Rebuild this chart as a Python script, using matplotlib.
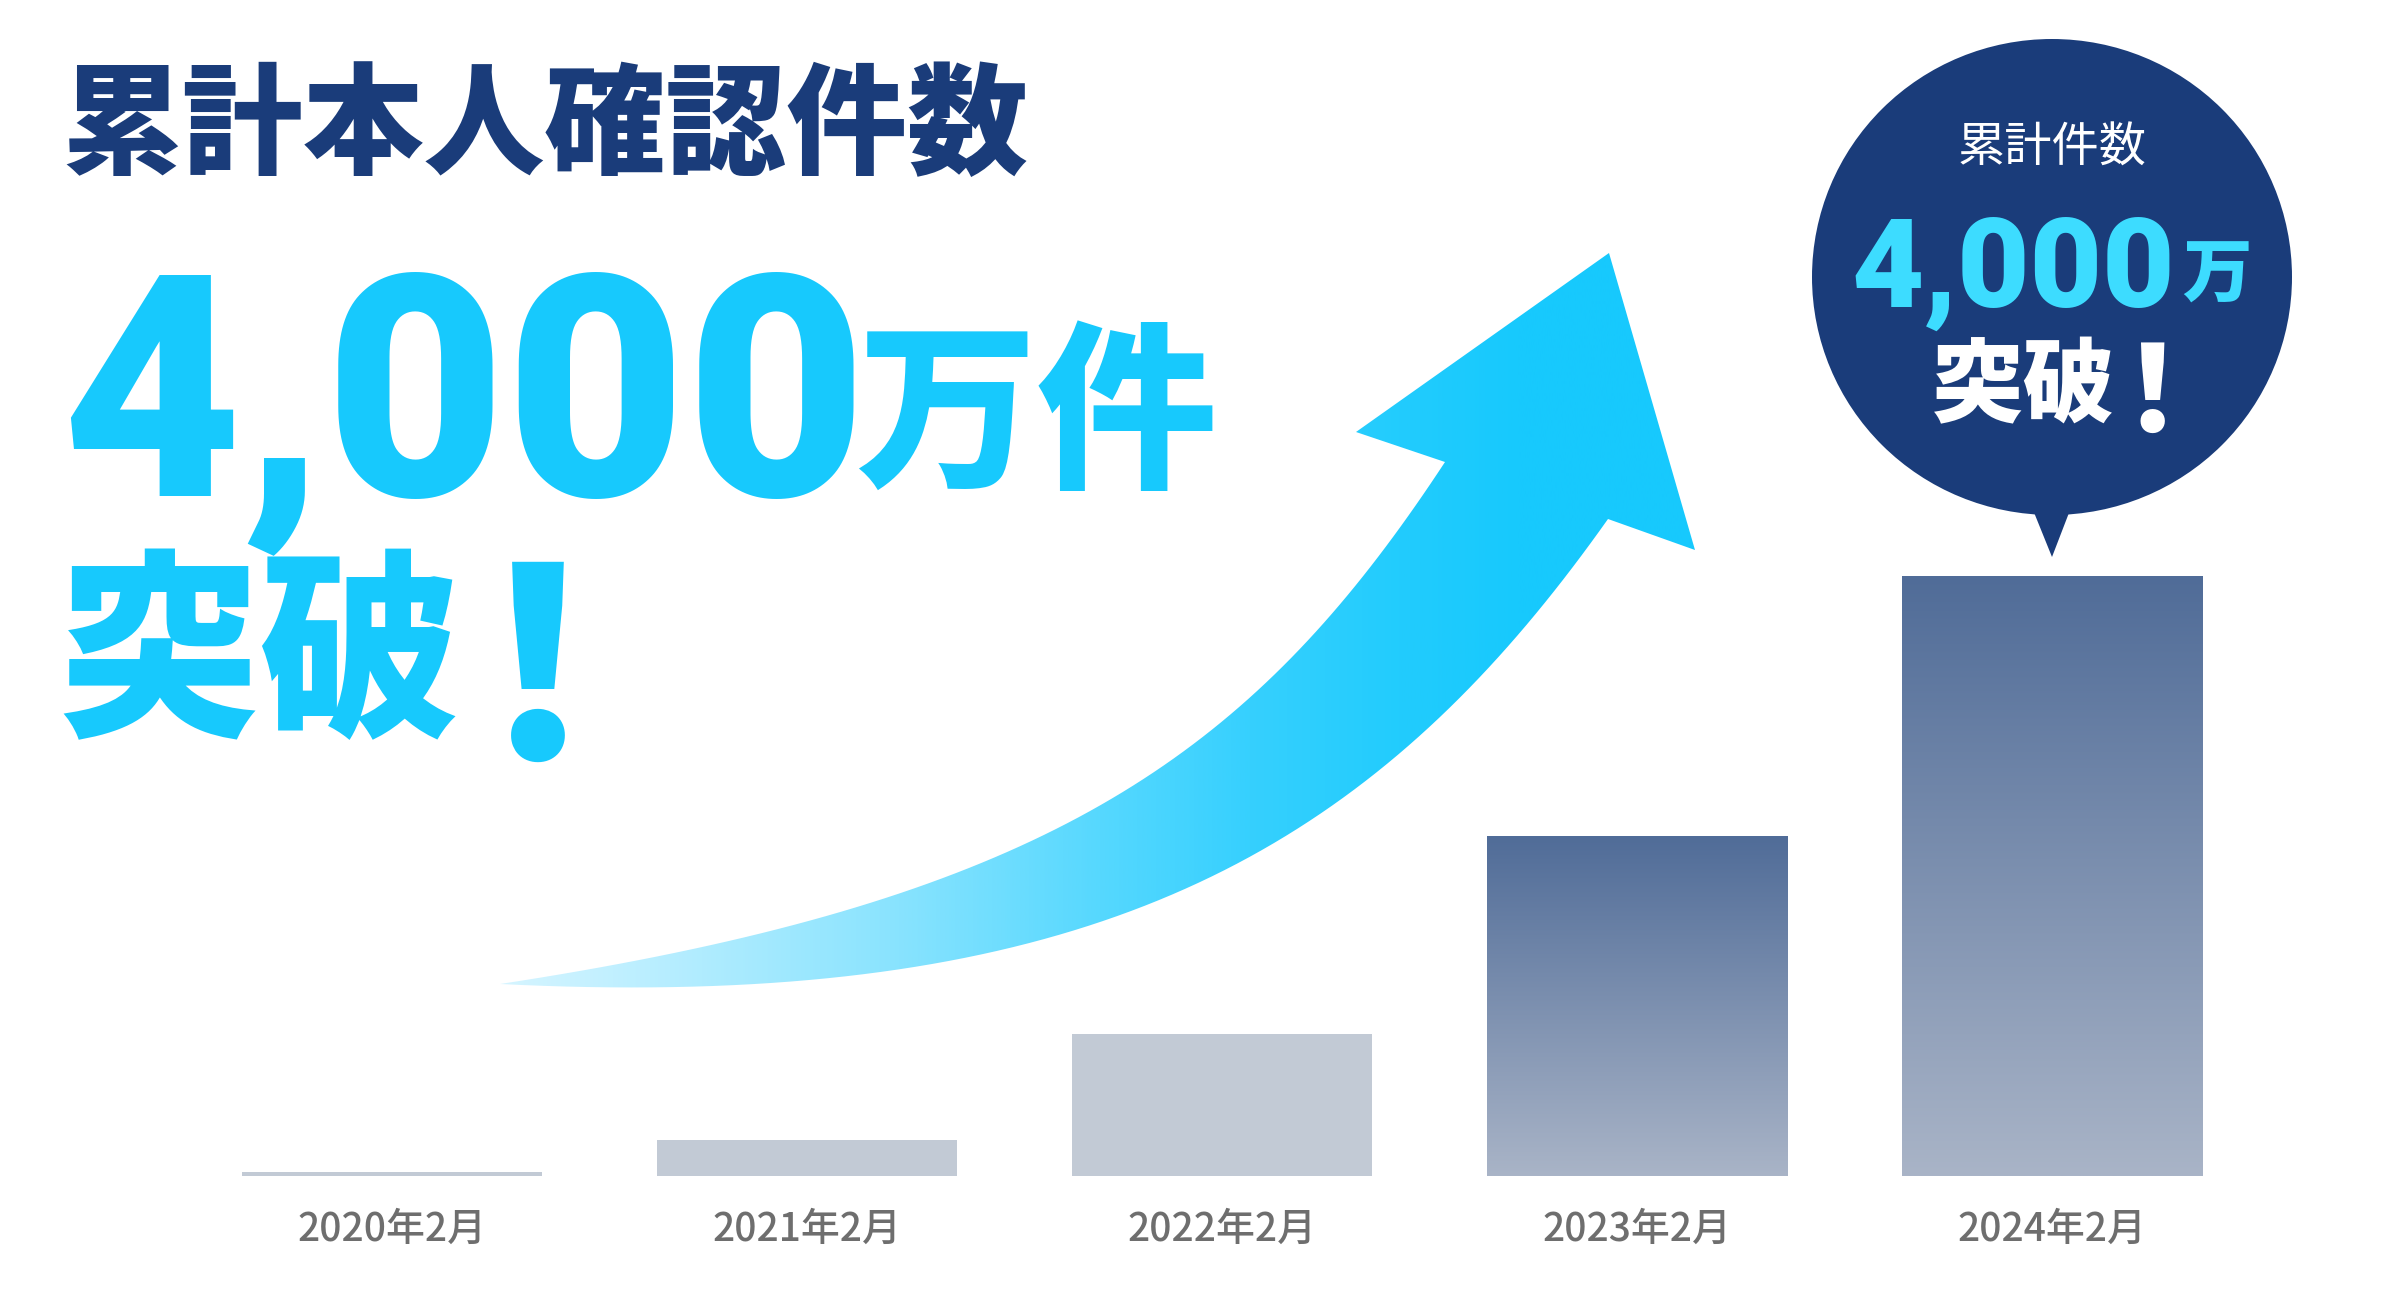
import numpy as np
import matplotlib.pyplot as plt
from matplotlib.patches import Ellipse, Polygon
from matplotlib.colors import LinearSegmentedColormap

plt.rcParams['font.family'] = ['Noto Sans CJK JP', 'DejaVu Sans']
digits_font = ['Roboto', 'Noto Sans CJK JP']

# data (万件)
months = ['2020年2月', '2021年2月', '2022年2月', '2023年2月', '2024年2月']
counts = [25, 240, 950, 2270, 4000]
gradient_bar = [False, False, False, True, True]

navy = '#1a3c7a'
cyan = '#17c9fd'

fig = plt.figure(figsize=(24, 13), dpi=100)

# bar chart
ax = fig.add_axes([0.0769, 1 - 1176 / 1300, 0.8646, (1176 - 576) / 1300])
x = np.arange(len(months))
bars = ax.bar(x, counts, width=0.723, color='#c2cad5', linewidth=0)
bar_cm = LinearSegmentedColormap.from_list('bar', ['#a9b4c7', '#506c98'])
for b, grad in zip(bars, gradient_bar):
    if not grad:
        continue
    b.set_facecolor('none')
    x0, y0 = b.get_x(), b.get_y()
    g = np.linspace(0, 1, 256).reshape(-1, 1)
    im = ax.imshow(g, cmap=bar_cm, origin='lower', aspect='auto',
                   extent=(x0, x0 + b.get_width(), y0, y0 + b.get_height()))
    im.set_clip_path(b)
ax.set_xlim(-0.5, len(months) - 0.5)
ax.set_ylim(0, 4000)
ax.set_xticks(x, months, fontsize=28, color='#6e6e6e', fontweight='medium')
ax.tick_params(axis='x', length=0, pad=24)
ax.set_yticks([])
for s in ax.spines.values():
    s.set_visible(False)
ax.patch.set_visible(False)

# overlay in pixel coordinates
ov = fig.add_axes([0, 0, 1, 1], zorder=3)
ov.set_xlim(0, 2400)
ov.set_ylim(1300, 0)
ov.axis('off')
ov.patch.set_visible(False)

# curved arrow
def bez(p0, p1, p2, p3, n=80):
    t = np.linspace(0, 1, n)[:, None]
    return ((1 - t) ** 3 * p0 + 3 * (1 - t) ** 2 * t * p1
            + 3 * (1 - t) * t ** 2 * p2 + t ** 3 * p3)

tail = np.array([500, 984])
upper = bez(tail, np.array([1050, 900]), np.array([1252, 756]), np.array([1445, 462]))
lower = bez(tail, np.array([1100, 1014]), np.array([1376, 847]), np.array([1608, 519]))
head = np.array([[1356, 432], [1609, 253], [1695, 550]])
arrow = Polygon(np.vstack([upper, head, lower[::-1]]), closed=True,
                facecolor='none', edgecolor='none')
ov.add_patch(arrow)
stops = [(0.0, '#d6f5ff'), (0.167, '#b0ecff'), (0.333, '#88e3fe'),
         (0.5, '#56d8fe'), (0.625, '#36d0fe'), (0.75, '#22ccfd'), (0.85, cyan), (1.0, cyan)]
acm = LinearSegmentedColormap.from_list('arr', stops)
aim = ov.imshow(np.linspace(0, 1, 512).reshape(1, -1), cmap=acm, aspect='auto',
                extent=(500, 1700, 1000, 240), interpolation='bilinear')
aim.set_clip_path(arrow)

# headline
ov.text(61, 129, '累計本人確認件数', fontsize=87, fontweight='black', color=navy,
        ha='left', va='center')
ov.text(61, 495, '4,000', fontsize=224, fontweight='black', color=cyan,
        family=digits_font, ha='left', va='baseline')
ov.text(856, 474, '万件', fontsize=130, fontweight='black', color=cyan,
        ha='left', va='baseline')
ov.text(58, 661, '突破', fontsize=145, fontweight='black', color=cyan,
        ha='left', va='center')
ov.text(538, 759, '！', fontsize=190, fontweight='black', color=cyan,
        ha='center', va='baseline')

# speech bubble
ov.add_patch(Ellipse((2052, 277), 480, 476, facecolor=navy, edgecolor='none'))
ov.add_patch(Polygon([[2031, 505], [2072, 505], [2052, 557]], closed=True,
                     facecolor=navy, edgecolor='none'))
ov.text(2052, 148, '累計件数', fontsize=34, color='white', ha='center', va='center')
ov.text(1851, 307, '4,000', fontsize=90, fontweight='black', color='#3ddcff',
        family=digits_font, ha='left', va='baseline')
ov.text(2182, 297, '万', fontsize=50, fontweight='black', color='#3ddcff',
        ha='left', va='baseline')
ov.text(1932, 388, '突破', fontsize=66, fontweight='black', color='white',
        ha='left', va='center')
ov.text(2152, 432, '！', fontsize=86, fontweight='black', color='white',
        ha='center', va='baseline')

fig.savefig('out.png', dpi=100, facecolor='white')
